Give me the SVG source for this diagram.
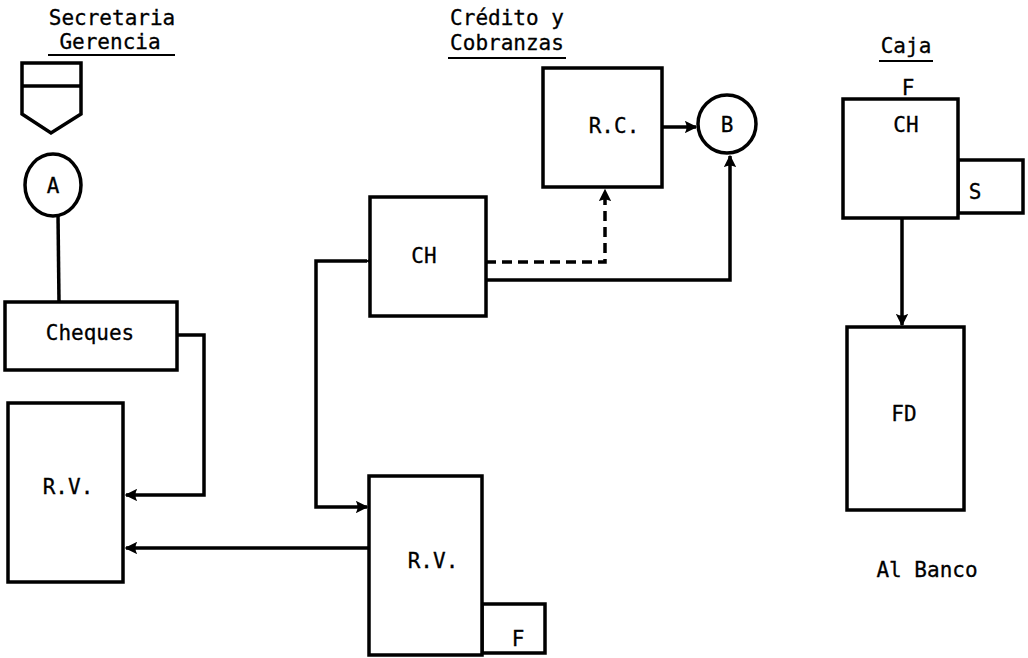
<svg xmlns="http://www.w3.org/2000/svg" width="1028" height="658" viewBox="0 0 1028 658">
<style>
.box{fill:#fff;stroke:#000;stroke-width:3.5}
.ln{fill:none;stroke:#000;stroke-width:3.5}
.dash{fill:none;stroke:#000;stroke-width:3.5;stroke-dasharray:10,6}
text{font-family:"DejaVu Sans Mono","Liberation Mono",monospace;font-size:21px;fill:#000;stroke:#000;stroke-width:0.3}
.t{text-anchor:middle}
.ul{stroke:#000;stroke-width:2}
</style>
<defs>
<marker id="ah" viewBox="0 0 10 10" refX="9" refY="5" markerWidth="3.6" markerHeight="3.6" orient="auto" markerUnits="strokeWidth">
<path d="M0,0 Q3,5 0,10 L10,5 Z" fill="#000"/>
</marker>
</defs>
<rect width="1028" height="658" fill="#fff"/>
<g id="headers">
<text x="112" y="25" class="t">Secretaria</text>
<text x="110" y="49" class="t">Gerencia</text>
<line x1="48" y1="55" x2="175" y2="55" class="ul"/>
<text x="507" y="25" class="t">Crédito y</text>
<text x="507" y="50" class="t">Cobranzas</text>
<line x1="448" y1="58" x2="566" y2="58" class="ul"/>
<text x="906" y="53" class="t">Caja</text>
<line x1="879" y1="61" x2="933" y2="61" class="ul"/>
</g>
<g id="connectors">
<line x1="58" y1="215" x2="59" y2="302" class="ln"/>
<polyline points="177,335 204,335 204,495 126,495" class="ln" marker-end="url(#ah)"/>
<line x1="369" y1="548" x2="126" y2="548" class="ln" marker-end="url(#ah)"/>
<polyline points="367,261 316,261 316,507 367,507" class="ln" marker-start="url(#ah)" marker-end="url(#ah)"/>
<polyline points="486,262 605,262 605,190" class="dash" marker-end="url(#ah)"/>
<polyline points="486,280 730,280 730,156" class="ln" marker-end="url(#ah)"/>
<line x1="662" y1="127" x2="696" y2="127" class="ln" marker-end="url(#ah)"/>
<line x1="902" y1="218" x2="902" y2="325" class="ln" marker-end="url(#ah)"/>
</g>
<g id="doc">
<path d="M22,63 H81 V114 L51,133 L22,114 Z" class="box"/>
<line x1="22" y1="86" x2="81" y2="86" class="ln"/>
</g>
<g id="circleA">
<ellipse cx="53" cy="185" rx="28" ry="31" class="box"/>
<text x="53" y="193" class="t">A</text>
</g>
<g id="cheques">
<rect x="5" y="302" width="172" height="68" class="box"/>
<text x="90" y="340" class="t">Cheques</text>
</g>
<g id="rv-left">
<rect x="8" y="403" width="115" height="179" class="box"/>
<text x="68" y="494" class="t">R.V.</text>
</g>
<g id="ch-mid">
<rect x="370" y="197" width="116" height="119" class="box"/>
<text x="424" y="263" class="t">CH</text>
</g>
<g id="rc">
<rect x="543" y="68" width="119" height="119" class="box"/>
<text x="614" y="133" class="t">R.C.</text>
</g>
<g id="circleB">
<circle cx="727" cy="124" r="29" class="box"/>
<text x="727" y="132" class="t">B</text>
</g>
<g id="rv-mid">
<rect x="482" y="604" width="63" height="49" class="box"/>
<rect x="369" y="476" width="113" height="179" class="box"/>
<text x="433" y="568" class="t">R.V.</text>
<text x="518" y="646" class="t">F</text>
</g>
<g id="ch-caja">
<text x="908" y="95" class="t">F</text>
<rect x="958" y="160" width="65" height="53" class="box"/>
<rect x="843" y="99" width="115" height="119" class="box"/>
<text x="906" y="132" class="t">CH</text>
<text x="975" y="199" class="t">S</text>
</g>
<g id="fd">
<rect x="847" y="327" width="117" height="183" class="box"/>
<text x="904" y="421" class="t">FD</text>
<text x="927" y="577" class="t">Al Banco</text>
</g>
</svg>
